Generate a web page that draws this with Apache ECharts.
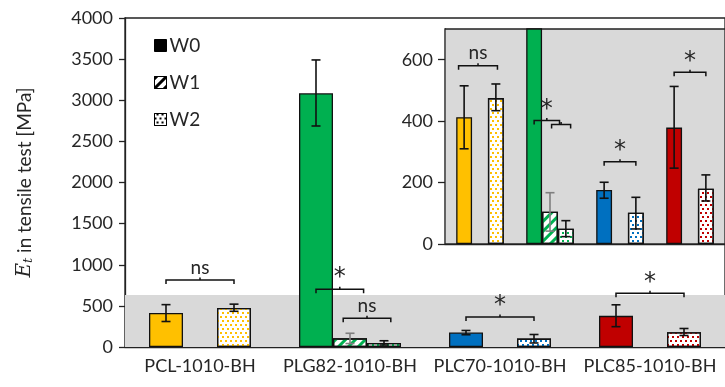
<!DOCTYPE html>
<html>
<head>
<meta charset="utf-8">
<script src="https://cdn.jsdelivr.net/npm/echarts@6/dist/echarts.min.js"></script>
<style>
    html, body { margin: 0; padding: 0; background: #fff; }
    #chart { width: 725px; height: 387px; }
</style>
</head>
<body>
<div id="chart"></div>
<script>
const categories = ['PCL-1010-BH', 'PLG82-1010-BH', 'PLC70-1010-BH', 'PLC85-1010-BH'];
const catColors = ['#FFC000', '#00B050', '#0070C0', '#C00000'];

// mean E_t per condition (MPa)
const w0 = [413, 3085, 176, 379];
const w1 = [null, 105, null, null];
const w2 = [475, 50, 102, 180];

// error bar ranges [low, high]
const w0Err = [[310, 515], [2687, 3490], [149, 201], [247, 513]];
const w1Err = [null, [42, 167], null, null];
const w2Err = [[434, 521], [24, 76], [49, 152], [140, 225]];

// significance brackets: [category, from slot, to slot, height]
const mainBrackets = [[0, 0, 2, 815], [1, 0, 1.4, 702], [1, 0.8, 2.2, 349], [2, 0, 2, 365], [3, 0, 2, 653]];
const mainBracketLabels = ['ns', '*', 'ns', '*', '*'];
const insetBrackets = [[0, -0.35, 2.1, 580], [1, 0, 1.6, 402], [1, 1.1, 2.3, 389], [2, 0, 2, 268], [3, 0, 2, 559]];
const insetBracketLabels = ['ns', '*', '', '*', '*'];

const mainTicks = { min: 0, max: 4000, interval: 500 };
const insetTicks = { min: 0, max: 700, interval: 200 };
const shadeTop = 632;

const GAP = 0.32;
const FONT = 'Lato';
const TEXT = '#262626';

const stripes = (color) => ({
    symbol: 'rect', symbolSize: 1, color: color,
    dashArrayX: [1, 0], dashArrayY: [3, 4], rotation: -Math.PI / 4
});
const dots = (color) => ({
    symbol: 'rect', symbolSize: 1, color: color,
    dashArrayX: [[1.5, 2.5], [0, 2, 1.5, 0.5]], dashArrayY: [1.5, 1.5]
});

function barData(values, kind) {
    return values.map((v, i) => {
        if (v == null) return null;
        const style = { borderColor: '#111', borderWidth: 1.3 };
        if (kind === 'solid') {
            style.color = catColors[i];
        } else {
            style.color = '#fff';
            style.decal = kind === 'stripes' ? stripes(catColors[i]) : dots(catColors[i]);
        }
        return { value: v, itemStyle: style };
    });
}

function errData() {
    const out = [];
    [w0Err, w1Err, w2Err].forEach((errs, slot) => {
        errs.forEach((e, i) => {
            if (e) out.push([i, e[0], e[1], slot, slot === 1 ? 1 : 0]);
        });
    });
    return out;
}

function slotWidth(api) {
    return api.size([1, 0])[0] * (1 - GAP) / 3;
}

function renderError(params, api) {
    const cat = api.value(0);
    const bw = slotWidth(api);
    const x = api.coord([cat, 0])[0] + (api.value(3) - 1) * bw;
    const yLo = api.coord([cat, api.value(1)])[1];
    const yHi = api.coord([cat, api.value(2)])[1];
    const cap = 4.5;
    const style = { stroke: api.value(4) ? '#7f7f7f' : '#111', lineWidth: 1.6 };
    return {
        type: 'group',
        children: [
            { type: 'line', shape: { x1: x, y1: yLo, x2: x, y2: yHi }, style: style },
            { type: 'line', shape: { x1: x - cap, y1: yLo, x2: x + cap, y2: yLo }, style: style },
            { type: 'line', shape: { x1: x - cap, y1: yHi, x2: x + cap, y2: yHi }, style: style }
        ]
    };
}

function bracketRenderer(labels) {
    return function (params, api) {
        const cat = api.value(0);
        const bw = slotWidth(api);
        const p = api.coord([cat, api.value(3)]);
        const x1 = p[0] + (api.value(1) - 1) * bw;
        const x2 = p[0] + (api.value(2) - 1) * bw;
        const y = p[1];
        const mid = (x1 + x2) / 2;
        const label = labels[params.dataIndex];
        const star = label === '*';
        const stroke = { stroke: '#111', lineWidth: 1.5, fill: null };
        return {
            type: 'group',
            children: [
                { type: 'polyline', shape: { points: [[x1, y + 4], [x1, y], [x2, y], [x2, y + 4]] }, style: stroke },
                { type: 'line', shape: { x1: mid, y1: y, x2: mid, y2: y - 2.5 }, style: stroke },
                {
                    type: 'text',
                    style: {
                        text: label, x: mid, y: star ? y + 1 : y - 3, align: 'center', verticalAlign: 'bottom',
                        fontFamily: star ? 'DejaVu Sans' : FONT, fontSize: star ? 24 : 19, fill: TEXT
                    }
                }
            ]
        };
    };
}

function barSeries(name, values, kind, axis) {
    return {
        name: name, type: 'bar', xAxisIndex: axis, yAxisIndex: axis,
        barGap: '0%', barCategoryGap: (GAP * 100) + '%',
        data: barData(values, kind), animation: false
    };
}

const axisLine = { lineStyle: { color: '#222', width: 1.3 } };
const plain = (v) => String(v);

const chart = echarts.init(document.getElementById('chart'));
chart.setOption({
    animation: false,
    grid: [
        { left: 125, top: 18, width: 609, height: 329, show: true, borderColor: '#222', borderWidth: 1.3 },
        { left: 445, top: 29, width: 280, height: 215, show: true, backgroundColor: '#D9D9D9', borderColor: '#222', borderWidth: 1.3, z: 3 }
    ],
    legend: {
        orient: 'vertical', left: 149, top: 31, itemWidth: 12, itemHeight: 12, itemGap: 18,
        textStyle: { fontFamily: FONT, fontSize: 19, color: TEXT, padding: [0, 0, 0, -2] },
        data: [
            { name: 'W0', icon: 'rect', itemStyle: { color: '#000', borderColor: '#000', borderWidth: 1 } },
            { name: 'W1', icon: 'rect', itemStyle: { color: '#fff', borderColor: '#000', borderWidth: 1, decal: stripes('#000') } },
            { name: 'W2', icon: 'rect', itemStyle: { color: '#fff', borderColor: '#000', borderWidth: 1, decal: dots('#000') } }
        ]
    },
    xAxis: [
        {
            type: 'category', gridIndex: 0, data: categories,
            axisLine: axisLine, axisTick: { length: 6, lineStyle: { color: '#222', width: 1.3 } },
            axisLabel: { fontFamily: FONT, fontSize: 18, color: TEXT, margin: 10, interval: 0 }
        },
        {
            type: 'category', gridIndex: 1, data: categories,
            axisLine: axisLine, axisTick: { length: 6, lineStyle: { color: '#222', width: 1.3 } },
            axisLabel: { show: false }
        }
    ],
    yAxis: [
        {
            type: 'value', gridIndex: 0, min: mainTicks.min, max: mainTicks.max, interval: mainTicks.interval,
            axisLine: { show: true, lineStyle: { color: '#222', width: 1.3 } },
            axisTick: { show: true, inside: false, length: 6, lineStyle: { color: '#222', width: 1.3 } },
            splitLine: { show: false },
            axisLabel: { fontFamily: FONT, fontSize: 18, color: TEXT, margin: 12, formatter: plain },
            name: '{e|E}{t|t} in tensile test [MPa]',
            nameLocation: 'middle', nameRotate: 90, nameGap: 90,
            nameTextStyle: {
                fontFamily: FONT, fontSize: 19, color: TEXT,
                rich: {
                    e: { fontFamily: 'DejaVu Serif', fontStyle: 'italic', fontSize: 20, color: TEXT },
                    t: { fontFamily: 'DejaVu Serif', fontStyle: 'italic', fontSize: 13, color: TEXT, verticalAlign: 'bottom', padding: [8, 0, 0, 0] }
                }
            }
        },
        {
            type: 'value', gridIndex: 1, min: insetTicks.min, max: insetTicks.max, interval: insetTicks.interval,
            axisLine: { show: true, lineStyle: { color: '#222', width: 1.3 } },
            axisTick: { show: true, inside: false, length: 7, lineStyle: { color: '#222', width: 1.3 } },
            splitLine: { show: false },
            axisLabel: { fontFamily: FONT, fontSize: 18, color: TEXT, margin: 12, showMaxLabel: false, formatter: plain }
        }
    ],
    series: [
        Object.assign(barSeries('W0', w0, 'solid', 0), {
            markArea: {
                silent: true, itemStyle: { color: '#D9D9D9' },
                data: [[{ yAxis: 0 }, { yAxis: shadeTop }]]
            }
        }),
        barSeries('W1', w1, 'stripes', 0),
        barSeries('W2', w2, 'dots', 0),
        {
            type: 'custom', xAxisIndex: 0, yAxisIndex: 0, renderItem: renderError,
            data: errData(), z: 5, silent: true
        },
        {
            type: 'custom', xAxisIndex: 0, yAxisIndex: 0, renderItem: bracketRenderer(mainBracketLabels),
            data: mainBrackets, z: 5, silent: true
        },
        Object.assign(barSeries('W0', w0, 'solid', 1), { z: 6 }),
        Object.assign(barSeries('W1', w1, 'stripes', 1), { z: 6 }),
        Object.assign(barSeries('W2', w2, 'dots', 1), { z: 6 }),
        {
            type: 'custom', xAxisIndex: 1, yAxisIndex: 1, renderItem: renderError, clip: true,
            data: errData(), z: 7, silent: true
        },
        {
            type: 'custom', xAxisIndex: 1, yAxisIndex: 1, renderItem: bracketRenderer(insetBracketLabels),
            data: insetBrackets, z: 7, silent: true
        }
    ]
});
</script>
</body>
</html>
